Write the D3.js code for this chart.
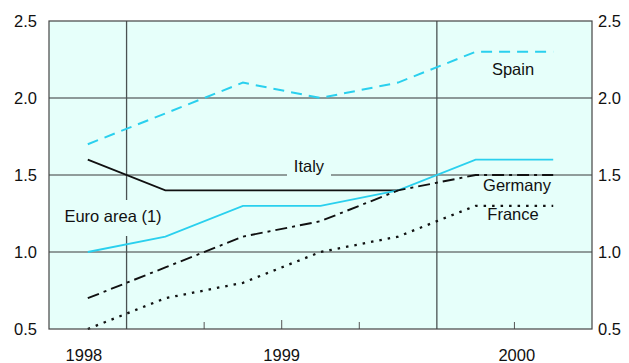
<!DOCTYPE html>
<html><head><meta charset="utf-8">
<script src="https://cdn.jsdelivr.net/npm/d3@7"></script>
<style>body{margin:0;background:#fff}svg{display:block;font-family:"Liberation Sans",Arial,sans-serif}</style>
</head><body><svg id="c" width="629" height="363"></svg>
<script>
const periods = [0,1,2,3,4,5,6];
const spain   = [1.7,1.9,2.1,2.0,2.1,2.3,2.3];
const italy   = [1.6,1.4,1.4,1.4,1.4,null,null];
const euro    = [1.0,1.1,1.3,1.3,1.4,1.6,1.6];
const germany = [0.7,0.9,1.1,1.2,1.4,1.5,1.5];
const france  = [0.5,0.7,0.8,1.0,1.1,1.3,1.3];
const yTicks = [0.5,1.0,1.5,2.0,2.5];
const yearLabels = ["1998","1999","2000"];
const yearPos = [-0.05,2.5,5.53];
const minorTicks = [1.5,3.5,5.5];
const majorTick = [2.5];
const yearLines = [0.5,4.5];

const svg = d3.select("#c");
const L=49,R=592,T=21,B=329;
const x = d3.scaleLinear().domain([-0.5,6.5]).range([L,R]);
const y = d3.scaleLinear().domain([0.5,2.5]).range([B,T]);
const cyan="#2ad0ee";
const bg="#e6fffa";
const FS=16.5;

svg.append("rect").attr("x",L).attr("y",T).attr("width",R-L).attr("height",B-T).attr("fill",bg);

[1.0,1.5,2.0].forEach(v=>{
  svg.append("line").attr("x1",L).attr("x2",R).attr("y1",y(v)).attr("y2",y(v))
    .attr("stroke", v===2.0?"#6e7777":"#3a3a3a").attr("stroke-width", v===2.0?1.5:1);
});
yearLines.forEach(v=>{
  svg.append("line").attr("x1",x(v)).attr("x2",x(v)).attr("y1",T).attr("y2",B)
    .attr("stroke","#4a5252").attr("stroke-width",1.3);
});
minorTicks.forEach(v=>svg.append("line").attr("x1",x(v)).attr("x2",x(v)).attr("y1",B).attr("y2",B-7).attr("stroke","#555"));
majorTick.forEach(v=>svg.append("line").attr("x1",x(v)).attr("x2",x(v)).attr("y1",B).attr("y2",B-9).attr("stroke","#555"));

function maskRect(x0,y0,w,h){svg.append("rect").attr("x",x0).attr("y",y0).attr("width",w).attr("height",h).attr("fill",bg);}
maskRect(287,158,44,20);
maskRect(58,200,112,36);

const line = d3.line().defined(d=>d[1]!==null).x(d=>x(d[0])).y(d=>y(d[1]));
function draw(vals,color,dash,w){
  svg.append("path").attr("d",line(periods.map((p,i)=>[p,vals[i]])))
    .attr("fill","none").attr("stroke",color).attr("stroke-width",w)
    .attr("stroke-dasharray",dash);
}
draw(italy,"#111",null,1.7);
draw(euro,cyan,null,1.8);
draw(spain,cyan,"11,7",2);
draw(germany,"#111","12,5,3,5",1.9);
draw(france,"#111","2.5,6",2.3);

svg.append("rect").attr("x",L).attr("y",T).attr("width",R-L).attr("height",B-T)
  .attr("fill","none").attr("stroke","#444").attr("stroke-width",1.2);

function label(txt,cx,cy){
  svg.append("text").attr("x",cx).attr("y",cy).attr("text-anchor","middle")
    .attr("font-size",FS).attr("fill","#111").text(txt);
}
label("Spain",513,75);
label("Italy",309,172);
label("Euro area (1)",113,222);
label("Germany",517,191);
label("France",513,220);

yTicks.forEach(v=>{
  svg.append("text").attr("x",37).attr("y",y(v)+6).attr("text-anchor","end").attr("font-size",FS).attr("fill","#111").text(v.toFixed(1));
  svg.append("text").attr("x",598).attr("y",y(v)+6).attr("text-anchor","start").attr("font-size",FS).attr("fill","#111").text(v.toFixed(1));
});
yearLabels.forEach((t,i)=>{
  svg.append("text").attr("x",x(yearPos[i])).attr("y",361).attr("text-anchor","middle").attr("font-size",FS).attr("fill","#111").text(t);
});
</script></body></html>
